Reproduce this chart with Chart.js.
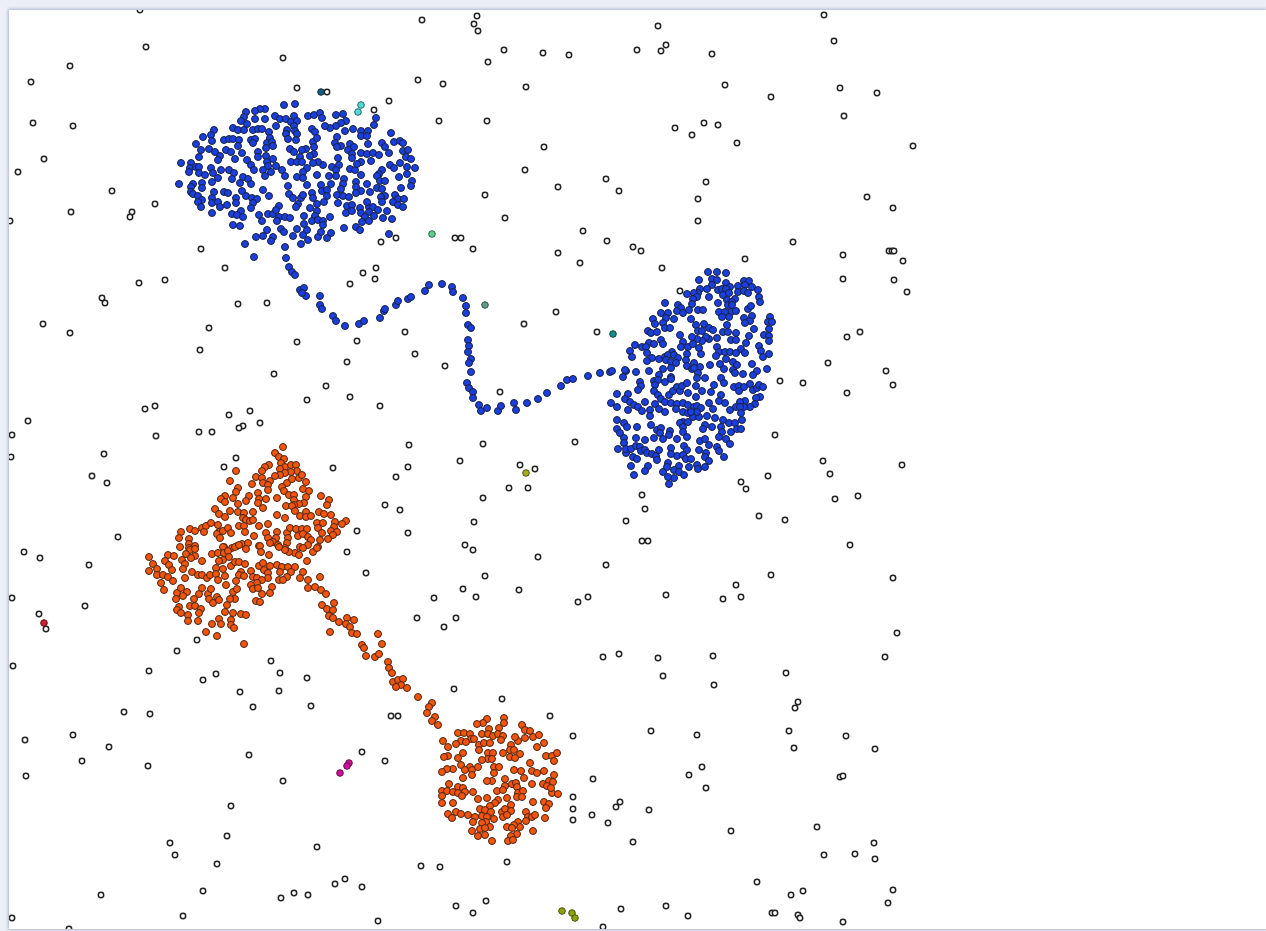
<!DOCTYPE html>
<html>
<head>
<meta charset="utf-8">
<title>Clusters</title>
<script src="https://cdn.jsdelivr.net/npm/chart.js@4"></script>
<style>
html, body { margin: 0; height: 100%; background: #eceff5; overflow: hidden; }
#plot { position: absolute; left: 9px; top: 10px; width: 1257px; height: 919px; background: #fff; box-shadow: 0 0 3px 1px #a9b3d0; }
canvas { filter: blur(0.45px); }
</style>
</head>
<body>
<div id="plot"><canvas id="scatter"></canvas></div>
<script>
// values, y grows downward
const noise = [[140,10],[422,20],[477,16],[474,24],[478,31],[658,26],[824,15],[834,41],[146,47],[283,58],[504,50],[488,62],[543,53],[569,55],[637,50],[661,51],[666,45],[712,54],[70,66],[31,82],[418,80],[443,84],[526,87],[725,85],[840,88],[877,93],[297,88],[327,92],[771,97],[389,101],[374,110],[33,123],[73,126],[439,121],[487,121],[675,128],[704,123],[718,125],[692,135],[844,116],[737,143],[913,146],[544,147],[44,159],[18,172],[525,170],[606,179],[706,182],[112,191],[155,204],[619,191],[558,187],[485,195],[867,197],[698,199],[893,208],[71,212],[132,212],[130,217],[10,221],[505,218],[698,221],[583,231],[201,249],[381,242],[396,238],[455,238],[461,238],[473,249],[607,241],[633,247],[641,251],[793,242],[558,253],[580,263],[843,255],[889,251],[892,251],[894,251],[903,261],[745,259],[225,268],[363,273],[376,268],[375,279],[662,268],[139,283],[165,280],[843,279],[894,280],[907,292],[350,284],[680,291],[102,298],[105,303],[238,304],[267,303],[556,312],[524,324],[43,324],[70,333],[209,328],[405,332],[597,332],[847,337],[860,332],[200,350],[297,342],[357,341],[415,354],[347,362],[445,366],[828,363],[274,374],[886,371],[893,385],[780,381],[803,383],[326,386],[350,397],[307,400],[500,392],[847,393],[145,409],[155,406],[380,406],[229,415],[250,411],[28,421],[12,435],[260,423],[243,426],[239,428],[199,432],[212,432],[156,436],[409,445],[483,444],[575,442],[775,435],[11,457],[104,454],[460,461],[408,467],[520,465],[535,469],[823,461],[902,465],[830,474],[92,476],[107,483],[224,467],[236,458],[333,468],[396,477],[509,488],[528,488],[768,476],[741,482],[746,489],[642,495],[483,498],[835,499],[858,496],[385,505],[400,510],[645,509],[626,521],[759,516],[785,520],[474,522],[357,531],[408,533],[118,537],[642,541],[648,541],[850,545],[24,552],[40,558],[89,565],[347,552],[465,545],[473,550],[538,557],[606,565],[366,573],[485,576],[771,575],[893,578],[463,589],[736,585],[519,590],[434,598],[476,597],[588,597],[578,602],[666,595],[723,599],[741,597],[12,598],[85,606],[39,614],[46,629],[417,618],[456,618],[444,627],[897,633],[177,651],[197,640],[603,657],[619,654],[658,658],[713,656],[885,657],[271,661],[13,666],[149,671],[280,673],[307,678],[663,676],[786,673],[203,680],[216,674],[714,685],[240,692],[279,691],[454,689],[502,699],[798,702],[795,708],[253,707],[311,706],[124,712],[150,714],[391,716],[398,716],[550,716],[651,731],[697,735],[789,731],[73,735],[25,740],[573,736],[846,736],[109,747],[362,752],[794,748],[875,749],[249,755],[385,761],[82,761],[148,766],[702,767],[689,775],[26,776],[283,781],[593,779],[840,777],[843,776],[706,788],[573,797],[573,809],[573,820],[620,802],[616,807],[592,815],[608,823],[649,810],[231,806],[817,827],[731,831],[227,836],[633,842],[170,843],[874,843],[317,847],[175,855],[855,854],[824,855],[875,859],[217,864],[421,866],[440,867],[507,862],[757,882],[345,879],[335,884],[362,887],[893,890],[101,895],[203,891],[281,898],[294,893],[308,895],[791,895],[803,891],[486,901],[456,906],[473,913],[621,909],[666,906],[888,903],[688,916],[772,913],[775,913],[798,915],[800,918],[183,916],[12,918],[378,921],[843,922],[603,927],[69,929]];

const blueTop = [[284,105],[295,104],[265,109],[260,109],[255,111],[246,112],[244,117],[241,121],[247,124],[255,119],[265,119],[275,116],[280,119],[286,119],[291,122],[294,116],[297,121],[276,126],[308,116],[314,115],[320,113],[322,118],[336,115],[343,114],[346,121],[341,123],[336,126],[330,128],[325,126],[376,118],[374,125],[233,128],[238,130],[244,130],[253,130],[258,129],[262,129],[269,132],[287,130],[294,126],[295,131],[286,134],[288,139],[312,129],[315,132],[345,131],[353,129],[361,131],[368,131],[361,136],[367,136],[391,133],[214,130],[211,135],[203,137],[212,141],[196,144],[224,140],[229,139],[233,139],[239,140],[238,146],[251,140],[255,139],[253,143],[270,138],[267,143],[272,142],[266,148],[273,146],[297,134],[296,140],[313,142],[317,138],[337,137],[335,143],[341,146],[337,147],[314,147],[306,149],[302,150],[290,149],[294,152],[300,157],[314,154],[310,156],[350,144],[354,147],[348,150],[352,154],[361,153],[368,144],[367,154],[373,153],[379,155],[382,143],[385,147],[389,153],[394,142],[400,141],[403,143],[403,151],[408,150],[406,157],[411,159],[415,168],[201,150],[209,149],[215,152],[199,157],[220,156],[218,160],[226,150],[231,152],[235,159],[242,153],[247,160],[251,165],[258,152],[258,157],[266,156],[267,162],[268,166],[273,159],[276,166],[282,170],[254,170],[263,170],[271,172],[265,176],[285,176],[181,163],[191,163],[190,168],[196,167],[199,167],[189,172],[199,173],[205,175],[211,168],[213,173],[221,170],[229,170],[234,173],[232,179],[218,178],[212,182],[240,183],[243,177],[248,179],[251,184],[179,184],[193,184],[202,183],[202,188],[191,187],[191,192],[193,194],[198,196],[202,200],[198,202],[201,207],[214,192],[224,192],[228,193],[212,198],[212,203],[218,202],[220,207],[227,205],[236,198],[236,203],[242,191],[246,196],[252,198],[257,199],[253,203],[251,208],[241,211],[263,190],[269,196],[288,186],[289,194],[293,198],[301,198],[303,195],[298,204],[296,207],[212,213],[232,214],[237,215],[243,217],[233,225],[240,226],[259,215],[268,214],[273,214],[279,206],[276,210],[279,217],[285,217],[290,218],[262,221],[277,221],[304,216],[310,208],[317,204],[324,202],[338,203],[317,211],[315,216],[312,221],[318,220],[323,221],[330,217],[323,225],[347,206],[352,205],[346,213],[352,211],[360,208],[361,213],[369,207],[373,207],[369,212],[378,210],[367,202],[387,211],[383,218],[392,219],[365,217],[362,222],[369,221],[374,216],[395,195],[398,199],[404,199],[393,202],[398,205],[403,207],[401,188],[412,181],[411,186],[399,177],[407,167],[407,174],[390,165],[394,168],[400,163],[382,170],[379,174],[377,176],[380,181],[385,181],[377,188],[382,189],[385,196],[381,197],[382,202],[370,192],[367,184],[361,175],[361,191],[356,182],[356,187],[356,193],[350,169],[355,170],[361,162],[357,164],[352,158],[371,161],[338,158],[339,165],[332,167],[336,170],[323,165],[318,162],[313,163],[307,168],[303,172],[297,177],[303,178],[307,185],[321,185],[322,191],[327,190],[331,184],[329,176],[336,176],[344,179],[343,184],[341,189],[337,195],[343,196],[349,197],[327,196],[312,193],[313,198],[317,175],[291,162],[297,162],[302,162],[304,224],[307,230],[297,229],[293,236],[303,235],[308,240],[301,244],[318,237],[327,238],[331,233],[321,232],[344,228],[356,227],[360,230],[389,234],[281,229],[284,232],[267,230],[263,236],[256,237],[245,244],[273,237],[271,241],[285,247],[286,258]];

const blueBridge = [[254,257],[289,267],[292,272],[295,275],[300,290],[304,288],[306,296],[302,293],[320,296],[320,305],[322,309],[333,316],[336,321],[345,326],[359,324],[364,321],[380,318],[384,311],[385,309],[396,305],[398,301],[408,299],[411,297],[425,291],[429,285],[442,284],[452,287],[453,292],[463,298],[466,306],[466,313],[468,325],[471,328],[468,340],[469,346],[468,352],[471,359],[469,363],[471,372],[467,383],[469,388],[473,392],[473,398],[479,405],[481,411],[487,408],[498,411],[501,406],[514,403],[516,410],[527,403],[538,399],[547,393],[561,386],[567,380],[573,379],[588,376],[600,373],[612,371],[625,370]];

const blueRight = [[708,272],[717,272],[726,273],[699,280],[712,279],[717,280],[712,285],[707,289],[726,283],[744,281],[749,281],[745,285],[752,287],[738,286],[730,287],[718,290],[722,289],[726,289],[723,295],[729,293],[738,292],[744,291],[748,293],[758,290],[759,297],[760,302],[735,299],[727,300],[728,305],[732,302],[718,303],[709,297],[700,289],[698,293],[694,293],[687,294],[697,297],[693,299],[692,304],[665,303],[678,305],[681,308],[677,311],[683,313],[689,310],[698,310],[703,310],[719,312],[732,305],[731,312],[736,311],[725,312],[722,317],[729,317],[748,309],[751,306],[752,316],[744,318],[750,321],[745,323],[770,317],[768,322],[772,322],[769,329],[754,329],[749,336],[764,335],[769,336],[769,341],[759,346],[746,343],[761,351],[763,357],[769,354],[741,349],[745,353],[661,313],[668,313],[666,318],[674,319],[653,319],[655,324],[663,323],[665,328],[670,328],[691,319],[696,325],[704,324],[698,331],[702,331],[709,328],[713,330],[727,325],[723,332],[728,332],[736,333],[717,338],[709,339],[706,337],[702,341],[697,339],[692,337],[680,335],[683,342],[648,331],[651,333],[657,332],[661,340],[663,344],[649,343],[654,344],[635,345],[642,347],[630,351],[632,357],[646,347],[647,353],[652,358],[647,361],[659,359],[665,357],[672,352],[668,355],[674,355],[678,358],[666,360],[671,362],[676,363],[681,347],[688,347],[693,344],[687,354],[686,360],[687,366],[699,348],[701,354],[717,347],[719,352],[716,356],[725,352],[730,352],[736,353],[731,340],[736,340],[726,359],[720,364],[733,362],[737,365],[724,369],[733,370],[710,365],[694,363],[692,369],[700,367],[698,373],[694,368],[752,364],[757,371],[767,369],[743,374],[753,375],[663,369],[671,368],[610,372],[626,371],[636,372],[649,371],[623,377],[659,375],[671,377],[697,378],[705,378],[721,378],[735,373],[640,382],[641,386],[638,390],[654,381],[658,380],[665,382],[671,379],[655,385],[654,391],[658,395],[661,399],[617,394],[611,403],[617,407],[628,394],[625,399],[630,402],[634,405],[638,407],[628,410],[642,411],[645,402],[650,410],[650,416],[655,404],[659,409],[665,412],[665,402],[669,395],[673,391],[677,387],[680,391],[682,386],[687,383],[688,393],[696,386],[696,397],[702,391],[714,385],[711,392],[724,383],[734,387],[739,386],[739,391],[744,387],[750,384],[753,390],[757,388],[759,385],[763,387],[721,395],[719,401],[725,403],[760,397],[756,398],[755,404],[750,407],[745,401],[740,402],[744,407],[736,407],[740,407],[741,413],[742,420],[730,410],[671,403],[677,404],[676,409],[683,403],[688,405],[683,412],[688,413],[694,407],[697,406],[701,408],[709,403],[713,409],[707,416],[693,417],[699,417],[697,412],[715,418],[691,412],[617,420],[624,423],[617,429],[627,427],[620,433],[624,438],[637,427],[651,425],[657,430],[661,428],[660,433],[670,431],[669,435],[663,439],[654,438],[636,438],[645,440],[683,422],[680,423],[688,422],[683,427],[683,432],[687,437],[677,439],[723,420],[729,423],[735,423],[705,425],[703,429],[712,427],[721,427],[722,432],[719,437],[726,439],[730,444],[731,432],[737,429],[741,429],[700,441],[705,439],[709,445],[624,443],[618,449],[626,453],[626,449],[631,449],[636,446],[640,447],[641,451],[645,450],[647,453],[652,454],[656,456],[659,450],[657,460],[633,457],[637,459],[671,448],[677,456],[671,454],[668,463],[684,446],[687,450],[683,455],[686,459],[691,459],[699,450],[706,453],[705,457],[709,461],[717,447],[719,451],[724,457],[689,467],[697,465],[698,469],[705,467],[679,466],[674,470],[679,472],[684,475],[674,478],[668,477],[663,472],[667,467],[669,484],[631,466],[648,466],[645,471],[634,475]];

const orangeLeft = [[283,447],[275,453],[279,457],[284,459],[281,463],[285,467],[291,465],[296,465],[297,471],[291,472],[269,465],[265,467],[262,471],[256,477],[262,478],[270,481],[263,483],[268,485],[268,490],[252,484],[280,469],[285,473],[280,475],[275,476],[287,483],[292,479],[299,478],[302,475],[306,482],[282,487],[284,491],[289,495],[294,495],[303,489],[309,491],[306,497],[304,503],[299,504],[294,500],[294,505],[286,506],[292,506],[295,511],[277,498],[236,471],[230,481],[238,488],[236,492],[233,498],[225,496],[221,499],[225,502],[238,504],[249,496],[246,501],[258,493],[259,499],[258,503],[266,499],[263,508],[215,509],[219,514],[225,517],[230,511],[238,512],[244,513],[253,512],[243,518],[246,520],[250,521],[253,520],[277,515],[285,518],[300,516],[306,512],[306,517],[311,516],[319,512],[324,514],[331,515],[321,496],[329,500],[327,505],[335,522],[346,521],[342,524],[317,523],[323,523],[318,528],[322,533],[334,527],[331,531],[337,532],[333,535],[328,539],[320,540],[181,532],[190,529],[195,531],[202,528],[206,526],[211,523],[218,525],[204,532],[179,538],[189,539],[189,544],[195,546],[180,547],[189,548],[219,532],[217,534],[223,531],[228,528],[231,533],[220,538],[239,526],[244,526],[245,532],[259,526],[268,524],[254,536],[266,533],[268,538],[277,532],[276,538],[287,533],[288,538],[290,528],[296,529],[302,529],[307,529],[298,536],[303,534],[308,537],[311,540],[287,543],[273,542],[270,543],[278,545],[242,544],[248,543],[237,546],[224,547],[232,548],[259,546],[308,545],[318,547],[300,547],[285,548],[149,557],[168,555],[174,556],[165,561],[153,564],[169,565],[157,569],[149,571],[172,570],[157,575],[163,575],[168,577],[173,581],[161,583],[164,590],[190,550],[195,549],[186,554],[182,560],[185,564],[183,569],[195,556],[191,558],[202,561],[212,554],[218,553],[223,547],[224,553],[228,551],[229,557],[223,560],[219,561],[235,547],[239,545],[246,549],[260,546],[261,552],[269,555],[192,572],[185,578],[198,575],[202,575],[207,578],[210,575],[216,568],[216,574],[223,569],[225,576],[218,580],[231,566],[235,562],[239,562],[245,564],[241,572],[239,575],[244,576],[236,581],[226,585],[251,571],[253,577],[257,578],[259,566],[263,563],[264,570],[268,573],[270,566],[277,565],[282,567],[288,567],[295,567],[280,572],[291,572],[287,577],[279,580],[283,580],[268,578],[262,580],[257,583],[251,585],[253,589],[258,588],[272,587],[270,593],[262,594],[256,601],[260,602],[233,592],[237,589],[235,599],[230,599],[227,605],[225,612],[233,613],[241,614],[246,615],[177,593],[181,588],[187,592],[183,596],[176,599],[199,594],[202,588],[208,594],[211,589],[209,599],[213,603],[217,597],[219,600],[194,599],[190,606],[195,606],[179,607],[201,609],[199,613],[177,610],[181,613],[188,615],[188,621],[198,621],[219,619],[221,624],[212,624],[231,620],[231,625],[234,628],[206,632],[217,636],[244,644],[303,572],[300,578],[308,580],[308,588],[315,587],[320,577],[321,590],[326,594],[307,561],[295,553],[299,555],[289,552],[285,550],[279,547],[303,548],[313,552],[317,548]];

const orangeBridge = [[322,605],[334,603],[327,609],[333,610],[329,616],[333,618],[339,622],[347,618],[354,620],[346,624],[350,627],[352,633],[357,634],[330,632],[362,645],[364,648],[366,656],[375,657],[379,654],[382,644],[378,634],[388,662],[389,668],[392,673],[393,682],[398,680],[403,679],[401,685],[407,688],[396,687],[418,697],[432,703],[429,707],[427,713],[435,717],[432,721],[438,725]];

const orangeRound = [[487,719],[483,723],[477,724],[504,718],[504,723],[499,728],[489,729],[482,734],[488,734],[493,736],[498,734],[503,736],[501,740],[522,725],[525,730],[530,731],[533,737],[539,735],[525,738],[518,741],[515,737],[544,743],[537,747],[458,733],[464,733],[470,734],[471,739],[474,739],[461,741],[466,742],[456,744],[443,741],[448,747],[479,745],[479,750],[484,743],[490,743],[511,745],[510,750],[514,750],[520,754],[510,757],[515,758],[463,753],[458,758],[461,765],[448,756],[444,757],[488,753],[493,753],[488,759],[492,759],[482,760],[503,753],[546,756],[552,756],[557,753],[554,761],[530,763],[470,767],[465,770],[472,770],[472,775],[478,767],[453,769],[447,769],[442,772],[494,767],[499,767],[494,773],[514,770],[521,771],[524,778],[532,771],[537,773],[544,771],[554,775],[549,781],[553,782],[543,784],[547,786],[532,784],[463,778],[492,781],[487,781],[505,779],[505,786],[512,784],[516,783],[517,787],[497,791],[503,790],[518,793],[523,791],[517,797],[522,797],[507,798],[449,784],[442,791],[447,791],[442,796],[453,792],[458,787],[458,793],[463,788],[465,792],[462,796],[473,792],[442,803],[453,803],[478,799],[487,798],[498,800],[495,803],[490,806],[533,802],[544,802],[549,804],[546,808],[552,793],[558,794],[551,788],[456,812],[448,814],[452,818],[461,814],[468,815],[475,817],[473,822],[480,809],[485,810],[491,812],[482,816],[487,817],[494,819],[486,822],[482,823],[490,827],[480,829],[485,828],[472,831],[478,836],[485,835],[492,841],[502,812],[505,809],[511,805],[511,811],[503,817],[507,815],[526,812],[528,817],[532,817],[535,815],[526,821],[545,818],[518,822],[520,827],[514,825],[507,827],[512,828],[533,831],[517,834],[511,836],[508,841],[513,840]];

// small clusters, one colour each
const darkTeal = [[321,92]];
const cyan = [[361,105],[358,112]];
const green = [[432,234]];
const greyGreen = [[485,305]];
const teal = [[613,334]];
const olive = [[526,473]];
const red = [[44,623]];
const magenta = [[349,763],[347,766],[340,773]];
const moss = [[562,911],[572,913],[575,918]];

function series(points, fill, radius, border, width) {
    return {
        data: points.map(function (p) { return { x: p[0], y: p[1] }; }),
        backgroundColor: fill,
        borderColor: border,
        borderWidth: width,
        pointRadius: radius,
    };
}

const datasets = [
    series(darkTeal, '#12607c', 3.3, '#1b2a38', 1),
    series(cyan, '#4fdcd4', 3.3, '#1f6a6a', 1),
    series(green, '#5ccf8e', 3.3, '#2a6a48', 1),
    series(greyGreen, '#5f9a8c', 3.3, '#34504a', 1),
    series(teal, '#0d8f8a', 3.3, '#123f3e', 1),
    series(olive, '#a3ad1f', 3.3, '#4c5212', 1),
    series(red, '#cf1f33', 3.3, '#5a1018', 1),
    series(magenta, '#d3109b', 3.3, '#5e0c46', 1),
    series(moss, '#8fa312', 3.3, '#45500c', 1),
    series(blueTop, '#1b3fdc', 3.5, '#16203f', 1),
    series(blueBridge, '#1b3fdc', 3.5, '#16203f', 1),
    series(blueRight, '#1b3fdc', 3.5, '#16203f', 1),
    series(orangeLeft, '#f2550f', 3.5, '#4a2412', 1),
    series(orangeBridge, '#f2550f', 3.5, '#4a2412', 1),
    series(orangeRound, '#f2550f', 3.5, '#4a2412', 1),
    series(noise, '#ffffff', 2.7, '#222222', 1.5),
];

new Chart(document.getElementById('scatter').getContext('2d'), {
    type: 'scatter',
    data: { datasets: datasets },
    options: {
        responsive: true,
        maintainAspectRatio: false,
        animation: false,
        layout: { padding: 0, autoPadding: false },
        plugins: { legend: { display: false }, tooltip: { enabled: false } },
        scales: {
            x: { display: false, min: 9, max: 1266 },
            y: { display: false, reverse: true, min: 10, max: 929 },
        },
    },
});
</script>
</body>
</html>
